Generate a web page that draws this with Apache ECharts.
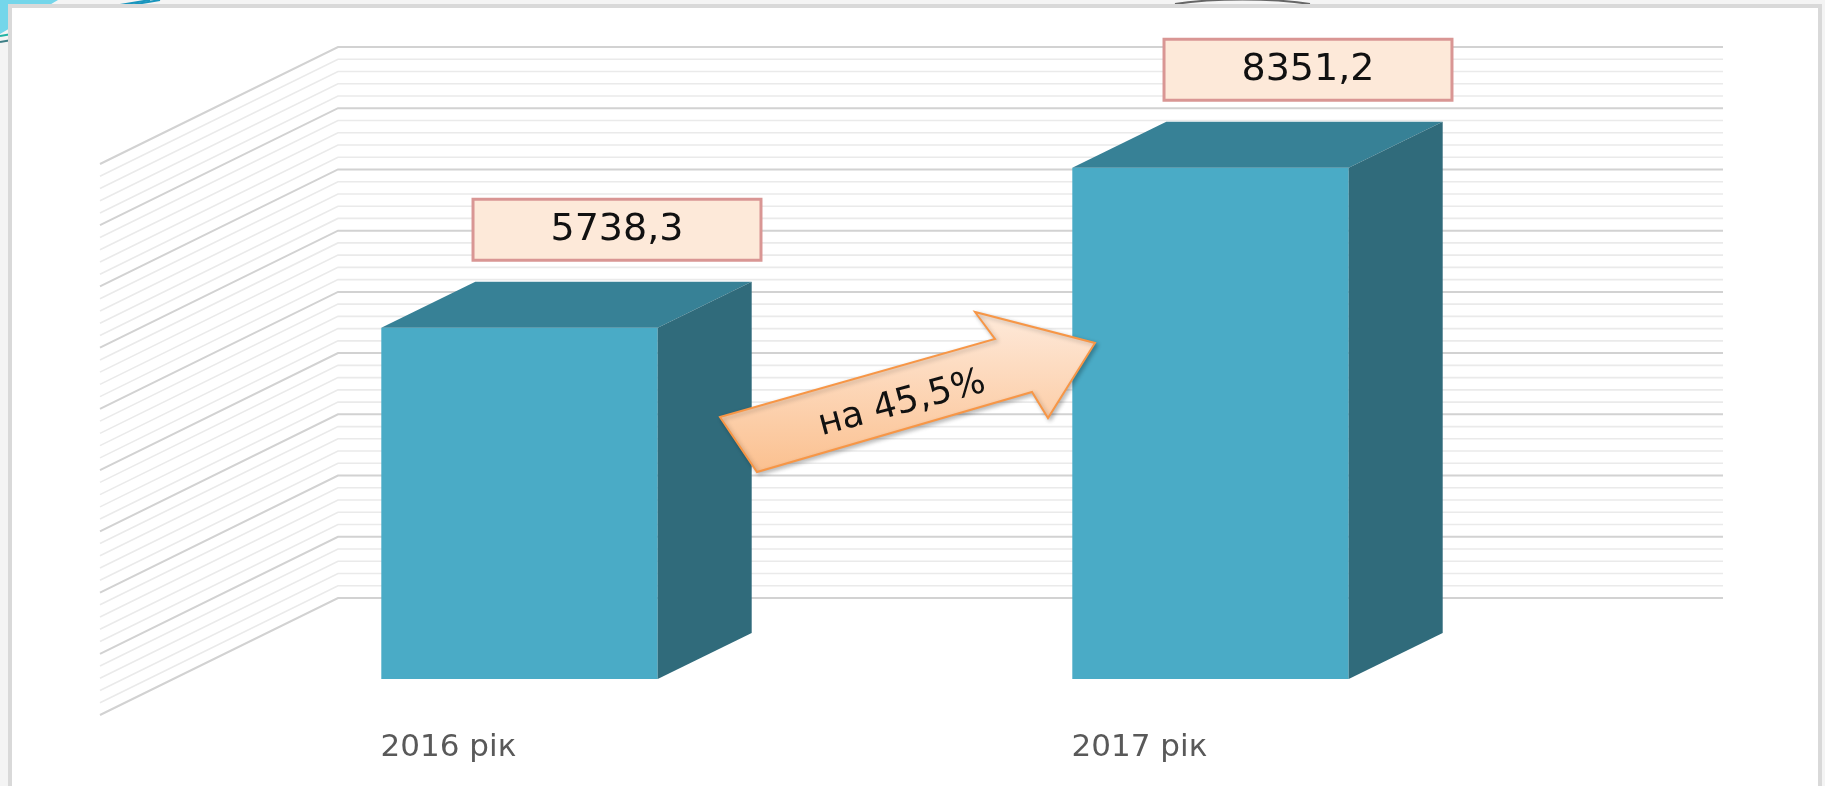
<!DOCTYPE html>
<html>
<head>
<meta charset="utf-8">
<script src="https://cdn.jsdelivr.net/npm/echarts@6/dist/echarts.min.js"></script>
<style>
  html, body { margin: 0; padding: 0; background: #f4f4f4; }
  #main { width: 1825px; height: 786px; }
</style>
</head>
<body>
<div id="main"></div>
<script>
// ---- data ----
const categories = ['2016 рік', '2017 рік'];
const values = [5738.3, 8351.2];
const valueLabels = ['5738,3', '8351,2'];
const growthLabel = 'на 45,5%';
const axisMax = 9000;
const majorStep = 1000;
const wallTicks = [0, 200, 400, 600, 800, 1000, 1200, 1400, 1600, 1800,
  2000, 2200, 2400, 2600, 2800, 3000, 3200, 3400, 3600, 3800,
  4000, 4200, 4400, 4600, 4800, 5000, 5200, 5400, 5600, 5800,
  6000, 6200, 6400, 6600, 6800, 7000, 7200, 7400, 7600, 7800,
  8000, 8200, 8400, 8600, 8800, 9000];

// ---- style constants ----
const FONT = 'DejaVu Sans';
const DEPTH = [94, -46];     // bar depth offset (px)
const SIDE = [-238, 117];    // side wall offset (px)

const chart = echarts.init(document.getElementById('main'), null, { renderer: 'canvas' });

function renderWall(params, api) {
  const v = api.value(1);
  const p = api.coord([0, v]);
  const q = api.coord([1, v]);
  const major = v % majorStep === 0;
  return {
    type: 'polyline',
    shape: { points: [[p[0] + SIDE[0], p[1] + SIDE[1]], [p[0], p[1]], [q[0], q[1]]] },
    style: { stroke: major ? '#d2d2d2' : '#eaeaea', lineWidth: major ? 2 : 1.6, fill: null }
  };
}

function renderBar(params, api) {
  const i = api.value(0);
  const v = api.value(1);
  const top = api.coord([i, v]);
  const base = api.coord([i, 0]);
  const band = api.size([1, 0])[0];
  const w = band * 0.4;
  const L = top[0] - w / 2, R = top[0] + w / 2, T = top[1], B = base[1];
  const dx = DEPTH[0], dy = DEPTH[1];
  return {
    type: 'group',
    children: [
      { type: 'rect', shape: { x: L, y: T, width: w, height: B - T }, style: { fill: '#4aabc6' } },
      { type: 'polygon', shape: { points: [[L, T], [R, T], [R + dx, T + dy], [L + dx, T + dy]] }, style: { fill: '#378196' } },
      { type: 'polygon', shape: { points: [[R, T], [R + dx, T + dy], [R + dx, B + dy], [R, B]] }, style: { fill: '#306b7b' } },
      {
        type: 'text',
        z2: 10,
        style: {
          text: valueLabels[params.dataIndex],
          x: top[0] + 97.5, y: T + dy - 52,
          align: 'center', verticalAlign: 'middle',
          fill: '#111', fontSize: 38, fontFamily: FONT,
          backgroundColor: '#fde9d9', borderColor: '#d99694', borderWidth: 3,
          padding: [10, 76]
        }
      }
    ]
  };
}

const option = {
  backgroundColor: '#f4f4f4',
  animation: false,
  grid: [
    { left: 338, top: 47, width: 1385, height: 551 },
    { left: 174, top: 128, width: 1382, height: 551 },
    { left: 103, top: 128, width: 1382, height: 587 }
  ],
  xAxis: [
    { type: 'value', gridIndex: 0, min: 0, max: 1, show: false },
    { type: 'category', gridIndex: 1, data: categories, show: false },
    {
      type: 'category', gridIndex: 2, data: categories,
      axisLine: { show: false }, axisTick: { show: false }, splitLine: { show: false },
      axisLabel: { margin: 17, color: '#595959', fontSize: 31, fontFamily: FONT }
    }
  ],
  yAxis: [
    { type: 'value', gridIndex: 0, min: 0, max: axisMax, show: false },
    { type: 'value', gridIndex: 1, min: 0, max: axisMax, show: false },
    { type: 'value', gridIndex: 2, min: 0, max: axisMax, show: false }
  ],
  graphic: {
    elements: [
      // slide decorations behind frame
      { type: 'polygon', z: -30, shape: { points: [[0, 0], [58, 0], [0, 34]] }, style: { fill: '#74d6ea' } },
      { type: 'line', z: -29, shape: { x1: 0, y1: 36, x2: 70, y2: 24 }, style: { stroke: '#22b3a5', lineWidth: 2 } },
      { type: 'line', z: -29, shape: { x1: 0, y1: 42, x2: 70, y2: 30 }, style: { stroke: '#3d7f86', lineWidth: 2 } },
      { type: 'line', z: -29, shape: { x1: 108, y1: 7, x2: 150, y2: 0 }, style: { stroke: '#1895bd', lineWidth: 2 } },
      { type: 'line', z: -29, shape: { x1: 118, y1: 7, x2: 160, y2: 0 }, style: { stroke: '#1895bd', lineWidth: 2 } },
      { type: 'bezierCurve', z: -29, shape: { x1: 1175, y1: 4, x2: 1310, y2: 4, cpx1: 1215, cpy1: -2, cpx2: 1270, cpy2: -2 }, style: { stroke: '#666', lineWidth: 2, fill: null } },
      // frame
      { type: 'rect', z: -20, shape: { x: 10, y: 6, width: 1810, height: 800 }, style: { fill: '#ffffff', stroke: '#d9d9d9', lineWidth: 4 } },
      // growth arrow
      {
        type: 'polygon', z: 100,
        shape: { points: [[720, 417], [995, 339], [975, 312], [1095, 343], [1048, 418], [1032, 392], [757, 472]] },
        style: {
          fill: new echarts.graphic.LinearGradient(0, 0, 0, 1, [
            { offset: 0, color: '#feeadb' },
            { offset: 1, color: '#fbc08f' }
          ]),
          stroke: '#f79646', lineWidth: 2,
          shadowBlur: 4, shadowColor: 'rgba(0,0,0,0.25)', shadowOffsetX: 2, shadowOffsetY: 2
        }
      },
      {
        type: 'text', z: 101,
        x: 902, y: 404, rotation: 15 * Math.PI / 180,
        style: {
          text: growthLabel, x: 0, y: 0, align: 'center', verticalAlign: 'middle',
          fill: '#111', fontSize: 36, fontFamily: FONT
        }
      }
    ]
  },
  series: [
    {
      type: 'custom', name: 'wall', xAxisIndex: 0, yAxisIndex: 0, z: 1,
      renderItem: renderWall,
      data: wallTicks.map(v => [0, v]),
      silent: true
    },
    {
      type: 'custom', name: 'bars', xAxisIndex: 1, yAxisIndex: 1, z: 3,
      renderItem: renderBar,
      data: categories.map((c, i) => [i, values[i]])
    }
  ]
};

chart.setOption(option);
</script>
</body>
</html>
